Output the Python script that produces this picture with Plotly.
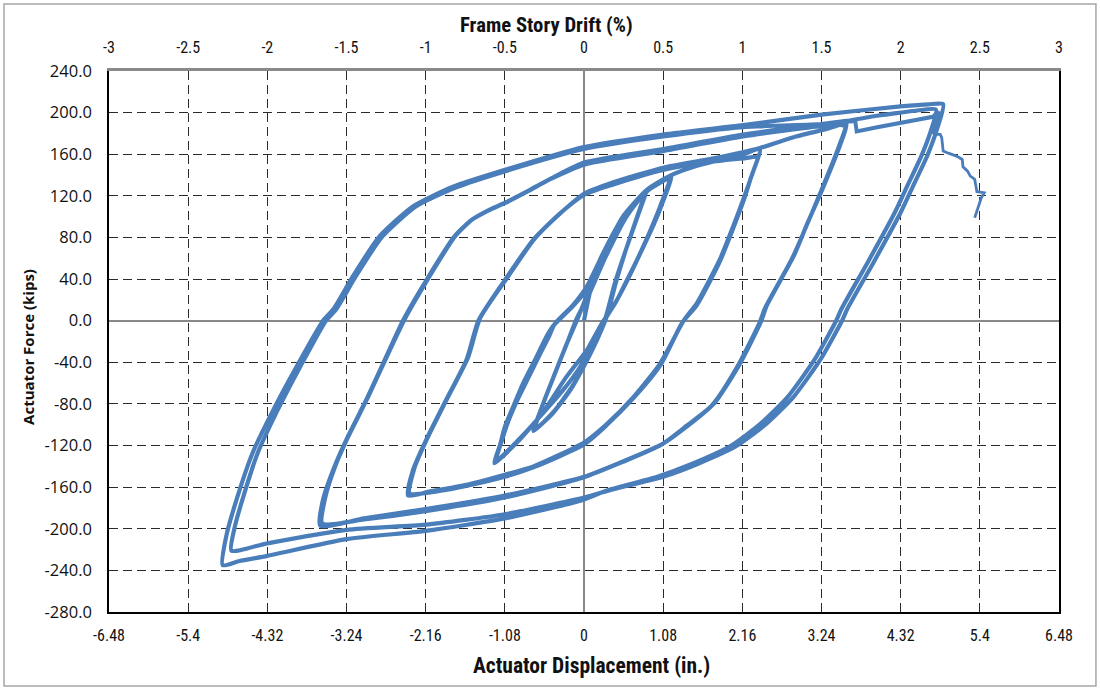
import plotly.graph_objects as go

# ---------------- data (displacement in inches, actuator force in kips) ----------------
# small elastic loops (about +/-0.85 in.)
s1_disp = [0.00, 0.12, 0.35, 0.60, 0.83, 0.74, 0.58, 0.44, 0.31, 0.12, -0.15, -0.42, -0.69, -0.58, -0.42,
           -0.25, -0.10, 0.06, 0.30, 0.58, 0.85, 0.75, 0.58, 0.42, 0.29, 0.10, -0.18, -0.45, -0.67, -0.57,
           -0.41, -0.24, -0.08]
s1_force = [0, 38, 75, 104, 123, 103, 70, 38, 4, -27, -62, -88, -106, -84, -55,
            -25, 2, 24, 62, 100, 125, 104, 70, 36, 2, -30, -66, -91, -104, -82,
            -53, -23, 3]

# loops to about +/-1.2 in.
s2_disp = [0.06, 0.24, 0.50, 0.81, 1.00, 1.19, 1.08, 0.95, 0.77, 0.60, 0.45, 0.26, 0.10, -0.05, -0.30,
           -0.60, -0.90, -1.22, -1.14, -1.08, -0.95, -0.83, -0.65, -0.51, -0.42, -0.15, 0.04, 0.24, 0.50, 0.81,
           1.00, 1.17, 1.05, 0.90, 0.72, 0.55, 0.42, 0.24, 0.05, -0.25, -0.58, -0.90, -1.20, -1.12, -1.04,
           -0.90, -0.76, -0.60, -0.47, -0.40]
s2_force = [28, 58, 93, 121, 132, 139, 115, 92, 65, 40, 20, -2, -22, -44, -68,
            -92, -116, -137, -118, -102, -80, -60, -35, -15, -5, 14, 30, 62, 96, 122,
            131, 137, 112, 86, 58, 34, 16, -3, -27, -55, -90, -115, -135, -115, -98,
            -75, -55, -32, -14, -3]

# loops to about +/-2.4 in.
b_disp = [-0.15, 0.04, 0.25, 0.53, 0.86, 1.19, 1.50, 1.77, 2.17, 2.40,
          2.30, 2.17, 2.02, 1.86, 1.54, 1.36, 1.04, 0.68, 0.30, 0.00, -0.69, -1.08, -1.69, -2.10, -2.40,
          -2.33, -2.15, -1.88, -1.60, -1.44, -1.08, -0.69, -0.33, 0.00, 0.40, 1.08, 1.77, 2.17, 2.36,
          2.27, 2.17, 1.86, 1.54, 1.34, 1.04, 0.68, 0.30, 0.00, -0.69, -1.08, -1.69, -2.10, -2.38,
          -2.31, -2.13, -1.86, -1.58, -1.42, -1.06, -0.67, -0.31, 0.00, 0.40, 1.08, 1.77]
b_force = [15, 33, 63, 100, 126, 140, 148, 153, 160, 165,
           142, 116, 88, 60, 17, 0, -41, -73, -100, -117, -140, -148, -159, -164, -168,
           -143, -114, -76, -37, 0, 39, 78, 103, 121, 131, 145, 153, 156, 157,
           136, 114, 58, 15, -2, -43, -74, -101, -119, -141, -150, -160, -165, -166,
           -141, -112, -74, -35, 2, 40, 79, 104, 122, 133, 147, 156]

# loops to about +/-3.6 in.
c_disp = [2.40, 2.89, 3.30, 3.58,
          3.50, 3.25, 3.05, 2.86, 2.49, 2.42, 2.13, 1.77, 1.40, 1.08, 0.54, 0.00, -1.08, -2.16, -3.00, -3.60,
          -3.56, -3.42, -3.24, -2.97, -2.74, -2.47, -2.15, -1.78, -1.55, -1.30, -1.08, -0.75, -0.46, 0.00,
          1.08, 2.17, 3.24, 3.56,
          3.48, 3.23, 2.84, 2.47, 2.40, 2.11, 1.75, 1.06, 0.52, -0.02, -1.08, -2.16, -3.00, -3.57,
          -3.53, -3.40, -3.22, -2.95, -2.72, -2.45, -2.13, -1.76, -1.53, -1.28, -1.06, -0.73, -0.44, 0.00,
          1.08, 2.17, 3.24, 3.58, 4.00, 4.32, 4.55, 4.80]
c_force = [166, 177, 184, 189,
           170, 126, 94, 62, 14, 0, -41, -80, -101, -118, -135, -150, -168, -181, -190, -197,
           -172, -143, -114, -76, -41, 0, 39, 80, 96, 106, 113, 125, 136, 150,
           163, 177, 187, 187,
           168, 124, 60, 12, -1, -42, -81, -119, -136, -151, -170, -183, -191, -195,
           -170, -141, -112, -74, -39, 1, 40, 81, 97, 107, 114, 126, 137, 152,
           165, 179, 189, 192, 197, 200, 202, 203]

# loops to about +/-4.9 in.
d1_down_disp = [4.72, 4.60, 4.42, 4.24, 3.87, 3.51, 3.44, 3.14, 2.77, 2.41, 2.01, 1.46, 1.00, 0.32, -0.05,
                -1.08, -2.16, -3.24, -4.32, -4.70, -4.93]
d1_down_force = [180, 158, 131, 104, 56, 11, 0, -38, -74, -99, -120, -138, -150, -163, -173,
                 -190, -202, -210, -226, -231, -235]
d1_up_disp = [-4.88, -4.74, -4.52, -4.24, -3.92, -3.56, -3.42, -3.15, -2.79, -2.33,
              -1.78, -1.08, 0.00, 1.08, 2.17, 3.24, 4.32, 4.70, 4.90]
d1_up_force = [-207, -172, -127, -86, -44, 0, 11, 43, 81, 110,
               129, 145, 167, 179, 188, 198, 206, 208, 208]
d2_down_disp = [4.82, 4.68, 4.50, 4.32, 3.95, 3.59, 3.52, 3.22, 2.85, 2.49, 2.09, 1.54, 1.08, 0.40, 0.00,
                -1.08, -2.16, -3.24, -4.32, -4.81]
d2_down_force = [185, 158, 131, 104, 56, 11, 0, -38, -74, -99, -120, -138, -150, -162, -170,
                 -186, -196, -201, -214, -221]
d2_up_disp = [-4.77, -4.66, -4.45, -4.18, -3.87, -3.52, -3.38, -3.11, -2.75, -2.29,
              -1.75, -1.06, 0.00, 1.08, 2.17, 3.24, 3.70]
d2_up_force = [-200, -172, -127, -86, -44, 0, 11, 43, 81, 110,
               128, 144, 165, 177, 186, 189, 192]

# final push: load drop near 3.7 in., peak, then strength degradation
final_disp = [3.70, 3.72, 4.00, 4.32, 4.76, 4.84, 4.80, 4.77]
final_force = [192, 182, 186, 190, 196, 201, 190, 179]
tail_disp = [4.77, 4.86, 4.88, 4.90, 4.97, 5.09, 5.16, 5.17, 5.23, 5.27, 5.33, 5.36, 5.46, 5.42, 5.33]
tail_force = [179, 179, 176, 163, 161, 158, 155, 148, 144, 139, 136, 124, 123, 118, 99]

# axis ticks
disp_ticks = [-6.48, -5.4, -4.32, -3.24, -2.16, -1.08, 0, 1.08, 2.16, 3.24, 4.32, 5.4, 6.48]
disp_labels = ["-6.48", "-5.4", "-4.32", "-3.24", "-2.16", "-1.08", "0", "1.08", "2.16", "3.24", "4.32", "5.4", "6.48"]
drift_ticks = [-3, -2.5, -2, -1.5, -1, -0.5, 0, 0.5, 1, 1.5, 2, 2.5, 3]
drift_labels = ["-3", "-2.5", "-2", "-1.5", "-1", "-0.5", "0", "0.5", "1", "1.5", "2", "2.5", "3"]
force_ticks = [240, 200, 160, 120, 80, 40, 0, -40, -80, -120, -160, -200, -240, -280]
force_labels = ["240.0", "200.0", "160.0", "120.0", "80.0", "40.0", "0.0", "-40.0", "-80.0",
                "-120.0", "-160.0", "-200.0", "-240.0", "-280.0"]

# ---------------- figure ----------------
LINE = "#4A7EBB"
main_x = s1_disp + s2_disp + b_disp + c_disp + d1_down_disp + d1_up_disp + d2_down_disp + d2_up_disp
main_y = s1_force + s2_force + b_force + c_force + d1_down_force + d1_up_force + d2_down_force + d2_up_force

fig = go.Figure()
fig.add_trace(go.Scatter(x=main_x, y=main_y, mode="lines", showlegend=False, hoverinfo="skip",
                         line=dict(color=LINE, width=4.2, shape="spline", smoothing=0.6)))
fig.add_trace(go.Scatter(x=final_disp, y=final_force, mode="lines", showlegend=False, hoverinfo="skip",
                         line=dict(color=LINE, width=4.0)))
fig.add_trace(go.Scatter(x=tail_disp, y=tail_force, mode="lines", showlegend=False, hoverinfo="skip",
                         line=dict(color=LINE, width=2.8)))
# empty trace that carries the secondary (drift) axis
fig.add_trace(go.Scatter(x=drift_ticks, y=[None] * len(drift_ticks), xaxis="x2", yaxis="y",
                         mode="lines", showlegend=False, hoverinfo="skip"))

NARROW = "Liberation Sans Narrow, Arial Narrow, Roboto Condensed, sans-serif"
TXT = "#111111"
GRID = "#2b2b2b"

fig.update_layout(
    width=1100, height=690, autosize=False,
    margin=dict(l=109, r=41, t=71, b=78, pad=0),
    paper_bgcolor="white", plot_bgcolor="white",
    xaxis=dict(range=[-6.48, 6.48], tickvals=disp_ticks, ticktext=disp_labels,
               showgrid=True, gridcolor=GRID, gridwidth=1, griddash="9px,5px",
               zeroline=True, zerolinecolor="#888888", zerolinewidth=2,
               showline=True, linecolor="#000000", linewidth=1.5, ticks="",
               tickfont=dict(family=NARROW, size=16, color=TXT), ticklabelstandoff=8),
    xaxis2=dict(range=[-3, 3], overlaying="x", side="top", anchor="y",
                tickvals=drift_ticks, ticktext=drift_labels, showgrid=False, zeroline=False,
                showline=True, linecolor="#8a8a8a", linewidth=2.5, ticks="",
                tickfont=dict(family=NARROW, size=16, color=TXT), ticklabelstandoff=9),
    yaxis=dict(range=[-280, 240], tickvals=force_ticks, ticktext=force_labels,
               showgrid=True, gridcolor=GRID, gridwidth=1, griddash="9px,5px",
               zeroline=True, zerolinecolor="#888888", zerolinewidth=2,
               showline=True, mirror=True, linecolor="#000000", linewidth=1.5, ticks="",
               tickfont=dict(family="Open Sans, sans-serif", size=16.5, color=TXT), ticklabelstandoff=12),
    annotations=[
        dict(text="Frame Story Drift (%)", xref="paper", yref="paper", x=0.46, y=1.085,
             xanchor="center", yanchor="middle", showarrow=False,
             font=dict(family=NARROW, size=20.7, color=TXT, weight=700)),
        dict(text="Actuator Displacement (in.)", xref="paper", yref="paper", x=0.5084, y=-0.098,
             xanchor="center", yanchor="middle", showarrow=False,
             font=dict(family=NARROW, size=21.5, color=TXT, weight=700)),
        dict(text="Actuator Force (kips)", xref="paper", yref="paper", x=-0.0853, y=0.49,
             xanchor="center", yanchor="middle", showarrow=False, textangle=-90,
             font=dict(family="Open Sans, sans-serif", size=15, color=TXT, weight=700)),
    ],
    shapes=[dict(type="rect", xref="paper", yref="paper", x0=-0.1105, x1=1.0389, y0=-0.1368, y1=1.1238,
                 line=dict(color="#a6a6a6", width=1.5), fillcolor="rgba(0,0,0,0)", layer="below")],
)

fig.write_html("out.html", config={"displayModeBar": False},
               post_script="document.body.style.margin='0px';")
